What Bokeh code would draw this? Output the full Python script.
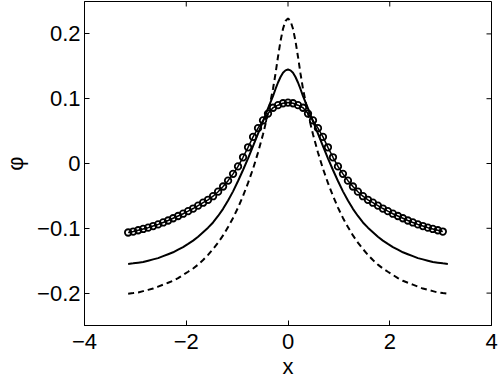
import math
from bokeh.plotting import figure
from bokeh.models import FixedTicker, Range1d
from bokeh.embed import file_html
from bokeh.resources import INLINE

# ---- data ----
x_line = [-3.142, -3.043, -2.945, -2.847, -2.749, -2.651, -2.553, -2.454, -2.356, -2.258,
          -2.160, -2.062, -1.963, -1.865, -1.767, -1.669, -1.571, -1.473, -1.374, -1.276,
          -1.178, -1.080, -0.982, -0.884, -0.785, -0.687, -0.589, -0.491, -0.393, -0.295,
          -0.245, -0.196, -0.147, -0.098, -0.049, 0.0,
          0.049, 0.098, 0.147, 0.196, 0.245, 0.295, 0.393, 0.491, 0.589, 0.687,
          0.785, 0.884, 0.982, 1.080, 1.178, 1.276, 1.374, 1.473, 1.571, 1.669,
          1.767, 1.865, 1.963, 2.062, 2.160, 2.258, 2.356, 2.454, 2.553, 2.651,
          2.749, 2.847, 2.945, 3.043, 3.142]

phi_solid = [-0.155, -0.154, -0.153, -0.152, -0.150, -0.148, -0.146, -0.143, -0.140, -0.137,
             -0.133, -0.129, -0.124, -0.119, -0.113, -0.106, -0.099, -0.091, -0.081, -0.070,
             -0.057, -0.043, -0.027, -0.010, 0.008, 0.027, 0.046, 0.065, 0.085, 0.104,
             0.115, 0.125, 0.1335, 0.140, 0.1437, 0.145,
             0.1437, 0.140, 0.1335, 0.125, 0.115, 0.104, 0.085, 0.065, 0.046, 0.027,
             0.008, -0.010, -0.027, -0.043, -0.057, -0.070, -0.081, -0.091, -0.099, -0.106,
             -0.113, -0.119, -0.124, -0.129, -0.133, -0.137, -0.140, -0.143, -0.146, -0.148,
             -0.150, -0.152, -0.153, -0.154, -0.155]

phi_dashed = [-0.201, -0.200, -0.199, -0.197, -0.195, -0.193, -0.190, -0.187, -0.184, -0.181,
              -0.177, -0.172, -0.167, -0.162, -0.156, -0.149, -0.141, -0.132, -0.122, -0.111,
              -0.098, -0.084, -0.068, -0.050, -0.030, -0.008, 0.017, 0.045, 0.077, 0.115,
              0.139, 0.165, 0.189, 0.208, 0.220, 0.224,
              0.220, 0.208, 0.189, 0.165, 0.139, 0.115, 0.077, 0.045, 0.017, -0.008,
              -0.030, -0.050, -0.068, -0.084, -0.098, -0.111, -0.122, -0.132, -0.141, -0.149,
              -0.156, -0.162, -0.167, -0.172, -0.177, -0.181, -0.184, -0.187, -0.190, -0.193,
              -0.195, -0.197, -0.199, -0.200, -0.201]

x_circ = [-3.142, -3.043, -2.945, -2.847, -2.749, -2.651, -2.553, -2.454, -2.356, -2.258,
          -2.160, -2.062, -1.963, -1.865, -1.767, -1.669, -1.571, -1.473, -1.374, -1.276,
          -1.178, -1.080, -0.982, -0.884, -0.785, -0.687, -0.589, -0.491, -0.393, -0.295,
          -0.196, -0.098, 0.0, 0.098, 0.196, 0.295, 0.393, 0.491, 0.589, 0.687,
          0.785, 0.884, 0.982, 1.080, 1.178, 1.276, 1.374, 1.473, 1.571, 1.669,
          1.767, 1.865, 1.963, 2.062, 2.160, 2.258, 2.356, 2.454, 2.553, 2.651,
          2.749, 2.847, 2.945, 3.043]

phi_circ = [-0.1065, -0.105, -0.103, -0.101, -0.099, -0.0965, -0.094, -0.091, -0.088, -0.0845,
            -0.081, -0.0775, -0.0735, -0.0695, -0.065, -0.0605, -0.056, -0.0505, -0.0435, -0.0355,
            -0.0265, -0.016, -0.0045, 0.0096, 0.025, 0.041, 0.0545, 0.0665, 0.077, 0.086,
            0.090, 0.093, 0.094, 0.093, 0.090, 0.086, 0.077, 0.0665, 0.0545, 0.041,
            0.025, 0.0096, -0.0045, -0.016, -0.0265, -0.0355, -0.0435, -0.0505, -0.056, -0.0605,
            -0.065, -0.0695, -0.0735, -0.0775, -0.081, -0.0845, -0.088, -0.091, -0.094, -0.0965,
            -0.099, -0.101, -0.103, -0.105]

x_ticks = [-4, -2, 0, 2, 4]
x_tick_labels = ["\u22124", "\u22122", "0", "2", "4"]
y_ticks = [-0.2, -0.1, 0, 0.1, 0.2]
y_tick_labels = ["\u22120.2", "\u22120.1", "0", "0.1", "0.2"]
x_label = "x"
y_label = "\u03c6"
x_min, x_max = -4, 4
y_min, y_max = -0.25, 0.25

FONT = "Liberation Sans"

p = figure(frame_width=407, frame_height=324,
           x_range=Range1d(x_min, x_max), y_range=Range1d(y_min, y_max),
           output_backend="svg", toolbar_location=None,
           min_border_left=73, min_border_right=10, min_border_top=1, min_border_bottom=0)
p.xgrid.visible = False
p.ygrid.visible = False
p.outline_line_color = "black"
p.outline_line_width = 1
p.background_fill_color = "white"
p.border_fill_color = "white"

for ax, ticks, labels in ((p.xaxis[0], x_ticks, x_tick_labels),
                          (p.yaxis[0], y_ticks, y_tick_labels)):
    ax.ticker = FixedTicker(ticks=ticks)
    ax.major_tick_in = 5
    ax.major_tick_out = 0
    ax.minor_tick_line_color = None
    ax.axis_line_color = "black"
    ax.axis_line_width = 1
    ax.major_tick_line_color = "black"
    ax.major_tick_line_width = 1
    ax.major_label_overrides = {t: l for t, l in zip(ticks, labels)}
    ax.major_label_text_font = FONT
    ax.major_label_text_font_size = "22px"
    ax.major_label_text_color = "black"
    ax.axis_label_text_font = FONT
    ax.axis_label_text_font_size = "22px"
    ax.axis_label_text_font_style = "normal"
    ax.axis_label_text_color = "black"

p.xaxis[0].axis_label = x_label
p.yaxis[0].axis_label = y_label
p.xaxis[0].major_label_standoff = 8
p.yaxis[0].major_label_standoff = 4
p.xaxis[0].axis_label_standoff = 2
p.yaxis[0].axis_label_standoff = 6

# inward ticks on the top and right edges of the box (MATLAB style)
p.ray(x=x_ticks, y=[y_max] * len(x_ticks), length=5, length_units="screen",
      angle=-math.pi / 2, line_color="black", line_width=1)
p.ray(x=[x_max] * len(y_ticks), y=y_ticks, length=5, length_units="screen",
      angle=math.pi, line_color="black", line_width=1)

p.line(x_line, phi_dashed, line_color="black", line_width=2, line_dash="6 4")
p.line(x_line, phi_solid, line_color="black", line_width=2)
p.line(x_circ, phi_circ, line_color="black", line_width=1.5)
p.scatter(x_circ, phi_circ, marker="circle", size=6.5, fill_color=None,
          line_color="black", line_width=1.8)

open("out.html", "w").write(file_html(p, INLINE))
